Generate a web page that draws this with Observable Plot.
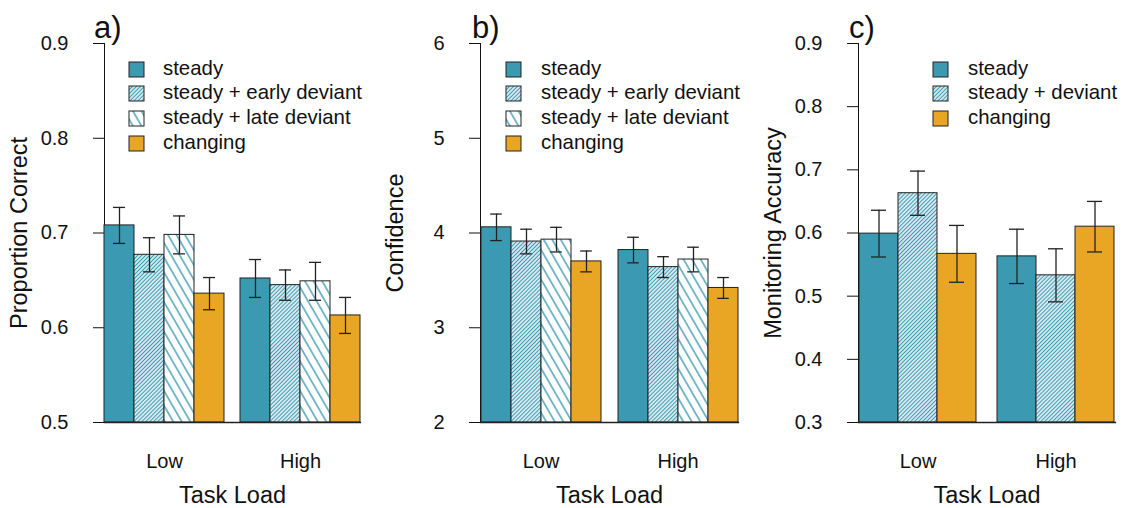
<!DOCTYPE html>
<html><head><meta charset="utf-8">
<script src="https://cdn.jsdelivr.net/npm/d3@7"></script>
<script src="https://cdn.jsdelivr.net/npm/@observablehq/plot@0.6"></script>
<style>
body{margin:0;background:#fff;font-family:"Liberation Sans",Arial,sans-serif;}
#row{display:flex;width:1125px;height:508px;overflow:hidden;}
.panel{position:relative;width:375px;height:508px;flex:none;}
.panel svg{display:block;}
.letter{position:absolute;top:12px;font-size:31px;line-height:1;color:#111;}
.item{position:absolute;left:0;height:25px;line-height:25px;font-size:20.4px;color:#111;white-space:nowrap;}
.item svg{position:absolute;top:5px;}
.item span{position:absolute;}
g[aria-label="y-axis tick label"] text, g[aria-label="fx-axis tick label"] text{font-size:20px;}
g[aria-label="y-axis label"] text, g[aria-label="fx-axis label"] text{font-size:23.5px;}
</style>
</head><body>
<svg width="0" height="0" style="position:absolute">
  <defs>
    <pattern id="pat-early" patternUnits="userSpaceOnUse" width="2.8" height="10" patternTransform="rotate(45)">
      <rect width="2.8" height="10" fill="#fff"/>
      <line x1="1.4" y1="-1" x2="1.4" y2="11" stroke="#3b9ab2" stroke-width="1.35"/>
    </pattern>
    <pattern id="pat-late" patternUnits="userSpaceOnUse" width="7.4" height="10" patternTransform="rotate(-30)">
      <rect width="7.4" height="10" fill="#fff"/>
      <line x1="3.7" y1="-1" x2="3.7" y2="11" stroke="#3b9ab2" stroke-width="1.35"/>
    </pattern>
  </defs>
</svg>
<div id="row"></div>
<script>
// ---- data ----
const loads = ["Low", "High"];
const condsAB = ["steady", "steady + early deviant", "steady + late deviant", "changing"];
const condsC = ["steady", "steady + deviant", "changing"];

// values in order: Low (each condition), then High (each condition)
const accMean = [0.708, 0.677, 0.698, 0.636, 0.652, 0.645, 0.649, 0.613];
const accErr  = [0.019, 0.018, 0.020, 0.017, 0.020, 0.016, 0.020, 0.019];
const confMean = [4.06, 3.91, 3.93, 3.70, 3.82, 3.64, 3.72, 3.42];
const confErr  = [0.14, 0.13, 0.13, 0.11, 0.135, 0.11, 0.13, 0.11];
const monMean = [0.599, 0.663, 0.567, 0.563, 0.533, 0.610];
const monErr  = [0.037, 0.035, 0.045, 0.043, 0.042, 0.040];

const ticksA = [0.5, 0.6, 0.7, 0.8, 0.9];
const ticksB = [2, 3, 4, 5, 6];
const ticksC = [0.3, 0.4, 0.5, 0.6, 0.7, 0.8, 0.9];

// ---- styles ----
const TEAL = "#3b9ab2", ORANGE = "#e8a624";
const fillsAB = [TEAL, "url(#pat-early)", "url(#pat-late)", ORANGE];
const fillsC = [TEAL, "url(#pat-early)", ORANGE];
const FONT = "'Liberation Sans', Arial, sans-serif";

const panels = [
  {letter: "a)", conds: condsAB, mean: accMean, err: accErr, ticks: ticksA, fmt: ".1f",
   label: "Proportion Correct", fills: fillsAB, ml: 93, mr: 3, pi: 0.117, po: 0.077, cap: 9,
   letterX: 94, swX: 129, txX: 163},
  {letter: "b)", conds: condsAB, mean: confMean, err: confErr, ticks: ticksB, fmt: "d",
   label: "Confidence", fills: fillsAB, ml: 96, mr: 2, pi: 0.114, po: 0.066, cap: 9.2,
   letterX: 97, swX: 131, txX: 166},
  {letter: "c)", conds: condsC, mean: monMean, err: monErr, ticks: ticksC, fmt: ".1f",
   label: "Monitoring Accuracy", fills: fillsC, ml: 98, mr: 0, pi: 0.139, po: 0.069, cap: 12,
   letterX: 99, swX: 183, txX: 218}
];

const row = document.getElementById("row");
for (const p of panels) {
  const n = p.conds.length;
  const rows = [];
  loads.forEach((load, li) => p.conds.forEach((cond, ci) => {
    rows.push({load, cond, mean: p.mean[li * n + ci], err: p.err[li * n + ci]});
  }));
  const y0 = p.ticks[0], y1 = p.ticks[p.ticks.length - 1];
  const errStyle = {stroke: "#222", strokeWidth: 1.3};
  const chart = Plot.plot({
    width: 375, height: 508,
    marginTop: 43, marginBottom: 86, marginLeft: p.ml, marginRight: p.mr,
    style: {fontFamily: FONT, fontSize: "20px", color: "#111", background: "transparent", overflow: "visible"},
    fx: {domain: loads, paddingInner: p.pi, paddingOuter: p.po, label: "Task Load", labelAnchor: "center",
         labelOffset: 80, tickSize: 0, tickPadding: 31, labelArrow: "none"},
    x: {domain: p.conds, axis: null, padding: 0},
    y: {domain: [y0, y1], ticks: p.ticks, tickFormat: d3.format(p.fmt), label: p.label, labelAnchor: "center",
        labelOffset: 94, tickSize: 11, tickPadding: 25, line: true, labelArrow: "none"},
    color: {domain: p.conds, range: p.fills},
    marks: [
      Plot.barY(rows, {fx: "load", x: "cond", y1: y0, y2: "mean", fill: "cond", stroke: "#222", strokeWidth: 1}),
      Plot.ruleX(rows, {fx: "load", x: "cond", y1: d => d.mean - d.err, y2: d => d.mean + d.err, ...errStyle}),
      Plot.tickY(rows, {fx: "load", x: "cond", y: d => d.mean - d.err, insetLeft: p.cap, insetRight: p.cap, ...errStyle}),
      Plot.tickY(rows, {fx: "load", x: "cond", y: d => d.mean + d.err, insetLeft: p.cap, insetRight: p.cap, ...errStyle}),
      Plot.frame({anchor: "bottom", facet: "super", stroke: "#222", strokeWidth: 1.3})
    ]
  });
  const panel = document.createElement("div");
  panel.className = "panel";
  panel.appendChild(chart);

  const letter = document.createElement("div");
  letter.className = "letter";
  letter.style.left = p.letterX + "px";
  letter.textContent = p.letter;
  panel.appendChild(letter);

  p.conds.forEach((c, i) => {
    const it = document.createElement("div");
    it.className = "item";
    it.style.top = (68 - 12.5 + i * 24.8) + "px";
    it.innerHTML = `<svg width="17" height="17" style="left:${p.swX - 1}px"><rect x="1" y="1" width="15" height="15" fill="${p.fills[i]}" stroke="#222" stroke-width="1"/></svg>`;
    const s = document.createElement("span");
    s.style.left = p.txX + "px";
    s.textContent = c;
    it.appendChild(s);
    panel.appendChild(it);
  });
  row.appendChild(panel);
}
</script>
</body></html>
